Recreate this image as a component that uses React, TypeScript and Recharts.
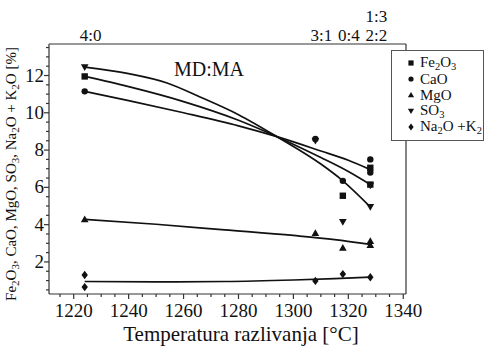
import { ComposedChart, Line, Scatter, XAxis, YAxis, Legend } from "recharts";

const FONT = '"Liberation Serif", "Times New Roman", serif';
const INK = "#111";
const AXIS = "#333";

// axis ticks
const xTicks = [1220, 1240, 1260, 1280, 1300, 1320, 1340];
const xMinorTicks = [1215, 1225, 1230, 1235, 1245, 1250, 1255, 1265, 1270, 1275, 1285, 1290, 1295, 1305, 1310, 1315, 1325, 1330, 1335];
const yTicks = [2, 4, 6, 8, 10, 12];
const yMinorTicks = [0.5, 1, 1.5, 2.5, 3, 3.5, 4.5, 5, 5.5, 6.5, 7, 7.5, 8.5, 9, 9.5, 10.5, 11, 11.5, 12.5, 13, 13.5];

// MD:MA ratios on the top axis
const ratioTicks = [1224, 1308, 1318, 1328];
const ratioLabels = [["4:0"], ["3:1"], ["0:4"], ["2:2", "1:3"]];

const seriesNames = ["Fe_2O_3", "CaO", "MgO", "SO_3", "Na_2O +K_2"];
const seriesKinds = ["square", "circle", "up", "down", "diamond"];

// measured points
const fe2o3Points = [
  { x: 1224, y: 11.95 },
  { x: 1318, y: 5.55 },
  { x: 1328, y: 7.05 },
  { x: 1328, y: 6.15 },
];
const caoPoints = [
  { x: 1224, y: 11.15 },
  { x: 1308, y: 8.6 },
  { x: 1318, y: 6.35 },
  { x: 1328, y: 7.5 },
  { x: 1328, y: 6.8 },
];
const mgoPoints = [
  { x: 1224, y: 4.28 },
  { x: 1308, y: 3.55 },
  { x: 1318, y: 2.75 },
  { x: 1328, y: 3.12 },
  { x: 1328, y: 2.9 },
];
const so3Points = [
  { x: 1224, y: 12.45 },
  { x: 1308, y: 8.5 },
  { x: 1318, y: 4.15 },
  { x: 1328, y: 6.1 },
  { x: 1328, y: 4.95 },
];
const alkaliPoints = [
  { x: 1224, y: 1.3 },
  { x: 1224, y: 0.65 },
  { x: 1308, y: 0.98 },
  { x: 1318, y: 1.35 },
  { x: 1328, y: 1.18 },
];

// fitted curves
const fe2o3Fit = [
  { x: 1224, y: 11.95 }, { x: 1240, y: 11.4 }, { x: 1260, y: 10.6 }, { x: 1280, y: 9.6 },
  { x: 1294, y: 8.72 }, { x: 1310, y: 7.6 }, { x: 1320, y: 6.85 }, { x: 1328, y: 6.15 },
];
const caoFit = [
  { x: 1224, y: 11.15 }, { x: 1240, y: 10.65 }, { x: 1260, y: 10.0 }, { x: 1280, y: 9.3 },
  { x: 1294, y: 8.72 }, { x: 1310, y: 7.95 }, { x: 1320, y: 7.45 }, { x: 1328, y: 6.95 },
];
const so3Fit = [
  { x: 1224, y: 12.45 }, { x: 1240, y: 12.1 }, { x: 1254, y: 11.6 }, { x: 1266, y: 10.85 },
  { x: 1280, y: 9.9 }, { x: 1294, y: 8.72 }, { x: 1310, y: 7.25 }, { x: 1318, y: 6.35 }, { x: 1328, y: 4.95 },
];
const mgoFit = [
  { x: 1224, y: 4.28 }, { x: 1250, y: 4.02 }, { x: 1275, y: 3.72 }, { x: 1300, y: 3.42 },
  { x: 1315, y: 3.2 }, { x: 1328, y: 2.94 },
];
const alkaliFit = [
  { x: 1224, y: 0.95 }, { x: 1250, y: 0.93 }, { x: 1275, y: 0.95 }, { x: 1300, y: 1.03 },
  { x: 1315, y: 1.1 }, { x: 1328, y: 1.19 },
];

const allXTicks = [...xTicks, ...xMinorTicks].sort((a, b) => a - b);
const allYTicks = [...yTicks, ...yMinorTicks].sort((a, b) => a - b);

function Marker({ cx, cy, kind, r = 3.2 }: { cx: number; cy: number; kind: string; r?: number }) {
  if (cx == null || cy == null) return null;
  if (kind === "square") return <rect x={cx - r} y={cy - r} width={2 * r} height={2 * r} fill={INK} />;
  if (kind === "circle") return <circle cx={cx} cy={cy} r={r} fill={INK} />;
  if (kind === "up")
    return <polygon points={`${cx},${cy - r * 1.2} ${cx - r * 1.2},${cy + r * 0.9} ${cx + r * 1.2},${cy + r * 0.9}`} fill={INK} />;
  if (kind === "down")
    return <polygon points={`${cx},${cy + r * 1.2} ${cx - r * 1.2},${cy - r * 0.9} ${cx + r * 1.2},${cy - r * 0.9}`} fill={INK} />;
  return <polygon points={`${cx},${cy - r * 1.3} ${cx + r},${cy} ${cx},${cy + r * 1.3} ${cx - r},${cy}`} fill={INK} />;
}

// split "Fe_2O_3" into normal text and subscripts
const parts = (t: string) => t.split(/(_\d)/).filter(Boolean);

function HtmlFormula({ text }: { text: string }) {
  return (
    <span>
      {parts(text).map((p, i) =>
        p.startsWith("_") ? (
          <span key={i} style={{ fontSize: "70%", position: "relative", top: "0.3em" }}>{p.slice(1)}</span>
        ) : (
          <span key={i}>{p}</span>
        )
      )}
    </span>
  );
}

function svgFormula(text: string, shift: number, subSize: number) {
  let down = false;
  return parts(text).map((p, i) => {
    if (p.startsWith("_")) {
      down = true;
      return <tspan key={i} dy={shift} fontSize={subSize}>{p.slice(1)}</tspan>;
    }
    const dy = down ? -shift : 0;
    down = false;
    return <tspan key={i} dy={dy}>{p}</tspan>;
  });
}

const XTick = (props: any) => {
  const { x, y, payload } = props;
  const major = xTicks.includes(payload.value);
  return (
    <g>
      <line x1={x} x2={x} y1={y} y2={y + (major ? 5 : 3)} stroke={AXIS} strokeWidth={1.2} />
      {major && (
        <text x={x} y={y + 23} textAnchor="middle" fontFamily={FONT} fontSize={19} fill={INK}>
          {payload.value}
        </text>
      )}
    </g>
  );
};

const YTick = (props: any) => {
  const { x, y, payload } = props;
  const major = yTicks.includes(payload.value);
  return (
    <g>
      <line x1={x} x2={x - (major ? 5 : 3)} y1={y} y2={y} stroke={AXIS} strokeWidth={1.2} />
      {major && (
        <text x={x - 5} y={y + 6} textAnchor="end" fontFamily={FONT} fontSize={19} fill={INK}>
          {payload.value}
        </text>
      )}
    </g>
  );
};

const TopTick = (props: any) => {
  const { x, y, payload } = props;
  const idx = ratioTicks.indexOf(payload.value);
  const lines = ratioLabels[idx] || [];
  return (
    <g>
      {lines.map((l, i) => (
        <text key={l} x={x + 6} y={y - 3 - i * 19} textAnchor="middle" fontFamily={FONT} fontSize={17} fill={INK}>
          {l}
        </text>
      ))}
    </g>
  );
};

const renderLegend = () => (
  <div
    style={{
      width: 93,
      height: 91,
      boxSizing: "border-box",
      border: "1px solid #555",
      background: "#fff",
      paddingTop: 4,
      fontFamily: FONT,
      fontSize: 15,
      color: INK,
      overflow: "hidden",
    }}
  >
    {seriesNames.map((n, i) => (
      <div key={n} style={{ height: 16, lineHeight: "16px", display: "flex", alignItems: "center", whiteSpace: "nowrap" }}>
        <svg width={10} height={10} style={{ marginLeft: 14, marginRight: 4, flex: "none" }}>
          <Marker cx={5} cy={5} kind={seriesKinds[i]} r={2.6} />
        </svg>
        <HtmlFormula text={n} />
      </div>
    ))}
  </div>
);

const shapeFor = (kind: string) => (p: any) => <Marker cx={p.cx} cy={p.cy} kind={kind} />;

export default function App() {
  const fits = [fe2o3Fit, caoFit, mgoFit, so3Fit, alkaliFit];
  const points = [fe2o3Points, caoPoints, mgoPoints, so3Points, alkaliPoints];
  return (
    <div style={{ position: "absolute", left: 0, top: 0, background: "#fff" }}>
      <ComposedChart width={490} height={347} margin={{ top: 14, right: 83, bottom: 13, left: 9 }}>
        <XAxis
          xAxisId="b"
          type="number"
          dataKey="x"
          domain={[1211, 1341]}
          ticks={allXTicks}
          interval={0}
          tick={<XTick />}
          tickLine={false}
          tickSize={0}
          tickMargin={0}
          height={40}
          axisLine={{ stroke: AXIS, strokeWidth: 1.2 }}
          allowDataOverflow
          label={{
            content: () => (
              <text x={241} y={341} textAnchor="middle" fontFamily={FONT} fontSize={21} fill={INK}>
                Temperatura razlivanja [°C]
              </text>
            ),
          }}
        />
        <XAxis
          xAxisId="t"
          orientation="top"
          type="number"
          dataKey="x"
          domain={[1211, 1341]}
          ticks={ratioTicks}
          interval={0}
          tick={<TopTick />}
          tickLine={false}
          tickSize={0}
          tickMargin={0}
          height={30}
          axisLine={{ stroke: AXIS, strokeWidth: 1.2 }}
          allowDataOverflow
        />
        <YAxis
          yAxisId="l"
          type="number"
          dataKey="y"
          domain={[0.28, 13.69]}
          ticks={allYTicks}
          interval={0}
          tick={<YTick />}
          tickLine={false}
          tickSize={0}
          tickMargin={0}
          width={40}
          axisLine={{ stroke: AXIS, strokeWidth: 1.2 }}
          allowDataOverflow
          label={{
            content: () => (
              <text
                x={16}
                y={174}
                transform="rotate(-90, 16, 174)"
                textAnchor="middle"
                fontFamily={FONT}
                fontSize={15}
                fill={INK}
              >
                {svgFormula("Fe_2O_3, CaO, MgO, SO_3, Na_2O + K_2O [%]", 3, 11)}
              </text>
            ),
          }}
        />
        <YAxis
          yAxisId="r"
          orientation="right"
          type="number"
          dataKey="y"
          domain={[0.28, 13.69]}
          tick={false}
          tickLine={false}
          width={1}
          axisLine={{ stroke: AXIS, strokeWidth: 1.2 }}
          allowDataOverflow
        />
        <Legend
          layout="horizontal"
          verticalAlign="middle"
          align="center"
          content={renderLegend}
          wrapperStyle={{ left: 391, top: 50, width: 93, height: 91 }}
        />
        {fits.map((d, i) => (
          <Line
            key={"fit" + i}
            xAxisId="b"
            yAxisId="l"
            data={d}
            dataKey="y"
            type="monotone"
            stroke={INK}
            strokeWidth={1.7}
            dot={false}
            activeDot={false}
            legendType="none"
            isAnimationActive={false}
          />
        ))}
        {points.map((d, i) => (
          <Scatter
            key={"pts" + i}
            name={seriesNames[i]}
            xAxisId="b"
            yAxisId="l"
            data={d}
            dataKey="y"
            shape={shapeFor(seriesKinds[i])}
            isAnimationActive={false}
          />
        ))}
        <text x={209} y={76} textAnchor="middle" fontFamily={FONT} fontSize={20} fill={INK}>
          MD:MA
        </text>
      </ComposedChart>
    </div>
  );
}
